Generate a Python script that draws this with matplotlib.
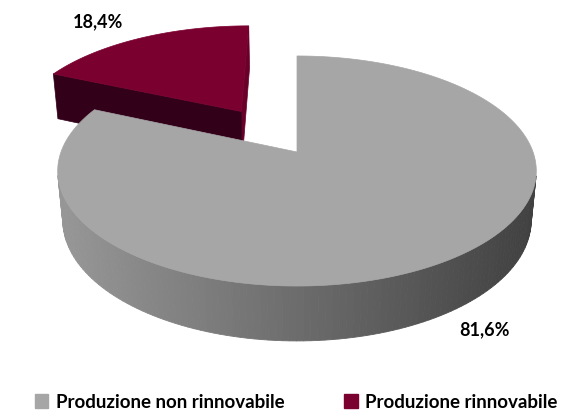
import numpy as np
import matplotlib.pyplot as plt
from matplotlib.patches import Polygon, Patch

# production shares (%)
labels = ['Produzione non rinnovabile', 'Produzione rinnovabile']
values = [81.6, 18.4]
top_colors = ['#a6a6a6', '#7a0030']
side_colors = [None, '#33001a']
explode = [0.0, 0.46]

plt.rcParams['font.family'] = ['Lato', 'DejaVu Sans']

# camera for the 3d pie
elev = np.radians(28.3)
dist = 5.33
focal = 1258.0
depth = 0.24
cx, cy = 297.0, 152.0
se, ce = np.sin(elev), np.cos(elev)
cam = np.array([0.0, -dist * ce, dist * se])


def proj(X, Y, Z):
    d = dist + Y * ce - Z * se
    return cx + focal * X / d, cy - focal * (Y * se + Z * ce) / d


def facing(p, n):
    return np.dot(np.asarray(p) - cam, n) < 0


def gray_side(x):
    g = 150 - (x - 63) / 476 * 86
    g = min(max(g, 60), 155) / 255
    return (g, g, g)


fig = plt.figure(figsize=(5.81, 4.17), dpi=100)
ax = fig.add_axes([0, 0, 1, 1])
ax.set_xlim(0, 581)
ax.set_ylim(417, 0)
ax.axis('off')

# slices start at 12 o'clock and run clockwise
fracs = np.array(values) / sum(values)
ends = 90 - np.cumsum(fracs) * 360
starts = np.r_[90, ends[:-1]]

# draw the back slice first so the big one overlaps it
for i in [1, 0]:
    a1, a0 = np.radians(starts[i]), np.radians(ends[i])
    mid = (a0 + a1) / 2
    ox, oy = explode[i] * np.cos(mid), explode[i] * np.sin(mid)
    th = np.linspace(a0, a1, 200)
    xs, ys = ox + np.cos(th), oy + np.sin(th)

    # outer wall
    for k in range(len(th) - 1):
        m = (th[k] + th[k + 1]) / 2
        n = np.array([np.cos(m), np.sin(m), 0])
        if not facing([ox + np.cos(m), oy + np.sin(m), 0], n):
            continue
        pts = [proj(xs[k], ys[k], 0), proj(xs[k + 1], ys[k + 1], 0),
               proj(xs[k + 1], ys[k + 1], -depth), proj(xs[k], ys[k], -depth)]
        col = gray_side(pts[0][0]) if side_colors[i] is None else side_colors[i]
        ax.add_patch(Polygon(pts, closed=True, fc=col, ec=col, lw=0.6))

    # cut faces
    for a, sgn in [(a0, -1), (a1, 1)]:
        n = np.array([-sgn * np.sin(a), sgn * np.cos(a), 0])
        if not facing([ox + 0.5 * np.cos(a), oy + 0.5 * np.sin(a), 0], n):
            continue
        ex, ey = ox + np.cos(a), oy + np.sin(a)
        pts = [proj(ox, oy, 0), proj(ex, ey, 0), proj(ex, ey, -depth), proj(ox, oy, -depth)]
        col = '#5c5c5c' if side_colors[i] is None else side_colors[i]
        if i == 1 and sgn == -1:
            col = '#6a0029'
        ax.add_patch(Polygon(pts, closed=True, fc=col, ec=col, lw=0.5))

    # top face
    top = [proj(ox, oy, 0)] + [proj(x, y, 0) for x, y in zip(xs, ys)]
    ax.add_patch(Polygon(top, closed=True, fc=top_colors[i], ec=top_colors[i], lw=0.5))

# value labels
lab_pos = [(484, 330), (98, 22)]
for v, (lx, ly) in zip(values, lab_pos):
    ax.text(lx, ly, f'{v:.1f}'.replace('.', ',') + '%', ha='center', va='center',
            fontsize=13, fontweight='bold', color='black')

handles = [Patch(fc=c, ec=c) for c in top_colors]
fig.legend(handles, labels, loc='lower center', ncol=2, frameon=False,
           bbox_to_anchor=(0.51, -0.025), prop={'weight': 'bold', 'size': 13.5},
           handlelength=0.7, handleheight=0.7, handletextpad=0.4, columnspacing=3.2)

fig.savefig('out.png', dpi=100)
